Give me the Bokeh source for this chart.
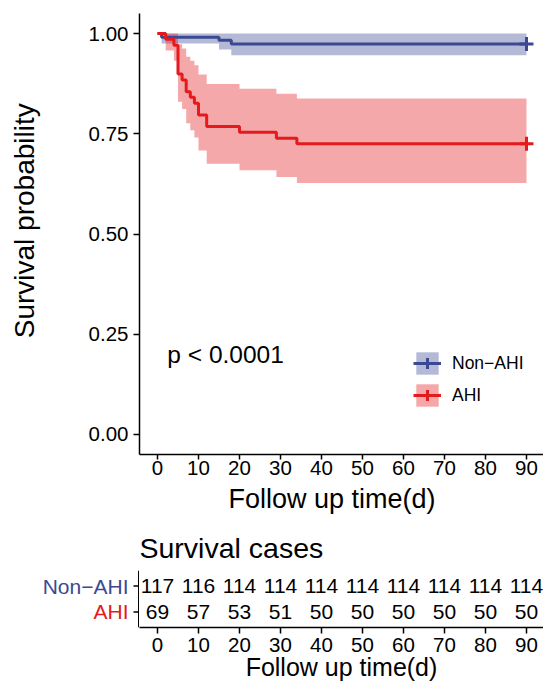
import math
from bokeh.plotting import figure
from bokeh.models import Range1d, FixedTicker, Legend, LegendItem, Label, NumeralTickFormatter
from bokeh.layouts import column, row
from bokeh.embed import file_html
from bokeh.resources import INLINE

FONT = "Liberation Sans"
BLUE = "#3B4992"
RED = "#E41A1C"

groups = ["Non\u2212AHI", "AHI"]

# Kaplan-Meier estimates
nonahi_time = [0, 1, 15, 18, 90]
nonahi_surv = [1.000, 0.991, 0.983, 0.974, 0.974]
nonahi_upper = [1.000, 1.000, 1.000, 1.000, 1.000]
nonahi_lower = [1.000, 0.975, 0.960, 0.946, 0.946]

ahi_time = [0, 2, 4, 5, 6, 7, 8, 9, 10, 12, 20, 29, 34, 90]
ahi_surv = [1.000, 0.986, 0.971, 0.899, 0.884, 0.855, 0.841, 0.826, 0.797, 0.768, 0.754, 0.739, 0.725, 0.725]
ahi_upper = [1.000, 1.000, 1.000, 0.973, 0.963, 0.942, 0.932, 0.921, 0.898, 0.874, 0.862, 0.850, 0.838, 0.838]
ahi_lower = [1.000, 0.958, 0.932, 0.830, 0.812, 0.776, 0.759, 0.741, 0.708, 0.675, 0.659, 0.642, 0.627, 0.627]

censor_time = [90]

risk_times = [0, 10, 20, 30, 40, 50, 60, 70, 80, 90]
risk_nonahi = [117, 116, 114, 114, 114, 114, 114, 114, 114, 114]
risk_ahi = [69, 57, 53, 51, 50, 50, 50, 50, 50, 50]
risk_rows = [2, 1]  # row positions of Non-AHI and AHI

x_ticks = [0, 10, 20, 30, 40, 50, 60, 70, 80, 90]
y_ticks = [0.0, 0.25, 0.5, 0.75, 1.0]
x_title = "Follow up time(d)"
y_title = "Survival probability"
table_title = "Survival cases"
pval_text = "p < 0.0001"

X_START, X_END = -4.39, 94.15
ROW_LO, ROW_HI = 0.4, 2.6
YT_W = 42
MAIN_H = 483
XT_H = 32


def style_axis(ax, label_size="20.5px", title_size="27px"):
    ax.axis_line_color = "black"
    ax.axis_line_width = 1.5
    ax.major_tick_line_color = "black"
    ax.major_tick_line_width = 1.5
    ax.major_tick_out = 6
    ax.major_tick_in = 0
    ax.minor_tick_out = 0
    ax.minor_tick_in = 0
    ax.major_label_text_font = FONT
    ax.major_label_text_font_size = label_size
    ax.major_label_text_color = "black"
    ax.axis_label_text_font = FONT
    ax.axis_label_text_font_size = title_size
    ax.axis_label_text_font_style = "normal"
    ax.axis_label_text_color = "black"


def blank(fig):
    fig.grid.visible = False
    fig.outline_line_color = None


# ---------------- y-axis title strip ----------------
p_yt = figure(width=YT_W, height=MAIN_H, x_range=Range1d(0, YT_W), y_range=Range1d(0, MAIN_H),
              output_backend="svg", toolbar_location=None,
              x_axis_location=None, y_axis_location=None,
              min_border_left=0, min_border_right=0, min_border_top=0, min_border_bottom=0)
blank(p_yt)
p_yt.text(x=[23.7], y=[MAIN_H - 227], text=[y_title], angle=math.pi / 2,
          text_font={"value": FONT}, text_font_size="28px", text_color="black",
          text_align="center", text_baseline="middle")

# ---------------- main survival plot ----------------
p1 = figure(width=543 - YT_W, height=MAIN_H, x_range=Range1d(X_START, X_END),
            y_range=Range1d(-0.05, 1.05),
            output_backend="svg", toolbar_location=None,
            min_border_left=139 - YT_W, min_border_right=0, min_border_top=13,
            min_border_bottom=MAIN_H - 454)
blank(p1)

b_band = p1.varea_step(x=nonahi_time, y1=nonahi_lower, y2=nonahi_upper, step_mode="after",
                       fill_color=BLUE, fill_alpha=0.38)
r_band = p1.varea_step(x=ahi_time, y1=ahi_lower, y2=ahi_upper, step_mode="after",
                       fill_color=RED, fill_alpha=0.38)
b_line = p1.step(x=nonahi_time, y=nonahi_surv, mode="after", line_width=3, line_color=BLUE)
r_line = p1.step(x=ahi_time, y=ahi_surv, mode="after", line_width=3, line_color=RED)
b_cens = p1.scatter(x=censor_time, y=[nonahi_surv[-1]], marker="cross", size=14,
                    line_width=3, line_color=BLUE)
r_cens = p1.scatter(x=censor_time, y=[ahi_surv[-1]], marker="cross", size=14,
                    line_width=3, line_color=RED)

p1.xaxis.ticker = FixedTicker(ticks=x_ticks)
p1.yaxis.ticker = FixedTicker(ticks=y_ticks)
p1.yaxis.formatter = NumeralTickFormatter(format="0.00")
style_axis(p1.xaxis[0])
style_axis(p1.yaxis[0])
p1.xaxis.major_tick_out = 5
p1.xaxis.major_label_standoff = 1
p1.yaxis.major_label_standoff = 5

p1.add_layout(Label(x=2.4, y=0.2, text=pval_text, text_font=FONT, text_font_size="24.5px",
                    text_baseline="middle", text_align="left", text_color="black"))

legend = Legend(items=[LegendItem(label=groups[0], renderers=[b_band, b_line, b_cens]),
                       LegendItem(label=groups[1], renderers=[r_band, r_line, r_cens])],
                location=(274, 45), padding=0, margin=0, spacing=4,
                glyph_width=28, glyph_height=28, label_standoff=11,
                label_text_font=FONT, label_text_font_size="17.5px",
                label_text_color="black", label_text_baseline="middle",
                border_line_color=None, background_fill_alpha=0)
p1.add_layout(legend)

# ---------------- x-axis title strip ----------------
p_xt = figure(width=543, height=XT_H, x_range=Range1d(0, 543), y_range=Range1d(0, XT_H),
              output_backend="svg", toolbar_location=None,
              x_axis_location=None, y_axis_location=None,
              min_border_left=0, min_border_right=0, min_border_top=0, min_border_bottom=0)
blank(p_xt)
p_xt.text(x=[331.5], y=[16.9], text=[x_title], text_font={"value": FONT},
          text_font_size="27px", text_color="black", text_align="center",
          text_baseline="middle")

# ---------------- risk table: row labels and left axis ----------------
p_lab = figure(width=139, height=168, x_range=Range1d(0, 139), y_range=Range1d(ROW_LO, ROW_HI),
               output_backend="svg", toolbar_location=None,
               x_axis_location=None, y_axis_location=None,
               min_border_left=0, min_border_right=0, min_border_top=55, min_border_bottom=55)
blank(p_lab)
p_lab.text(x=[128] * len(groups), y=risk_rows, text=groups,
           text_color=[BLUE, RED], text_font={"value": FONT}, text_font_size="21px",
           text_align="right", text_baseline="middle")
p_lab.segment(x0=[138.25], y0=[ROW_LO], x1=[138.25], y1=[ROW_HI],
              line_color="black", line_width=1.5)
p_lab.segment(x0=[133] * len(risk_rows), y0=risk_rows, x1=[139] * len(risk_rows), y1=risk_rows,
              line_color="black", line_width=1.5)

# ---------------- risk table: numbers ----------------
p2 = figure(width=404, height=168, x_range=Range1d(X_START, X_END), y_range=Range1d(ROW_LO, ROW_HI),
            output_backend="svg", toolbar_location=None, title=table_title,
            y_axis_location=None,
            min_border_left=0, min_border_right=0, min_border_top=55, min_border_bottom=55)
blank(p2)
p2.title.text_font = FONT
p2.title.text_font_size = "28.5px"
p2.title.text_font_style = "normal"
p2.title.text_color = "black"
p2.title.standoff = 14

p2.text(x=risk_times, y=[risk_rows[0]] * len(risk_times), text=[str(v) for v in risk_nonahi],
        text_font={"value": FONT}, text_font_size="21px", text_align="center",
        text_baseline="middle", text_color="black")
p2.text(x=risk_times, y=[risk_rows[1]] * len(risk_times), text=[str(v) for v in risk_ahi],
        text_font={"value": FONT}, text_font_size="21px", text_align="center",
        text_baseline="middle", text_color="black")

p2.xaxis.ticker = FixedTicker(ticks=x_ticks)
p2.xaxis.axis_label = x_title
style_axis(p2.xaxis[0], title_size="25px")
p2.xaxis.major_label_standoff = 4
p2.xaxis.axis_label_standoff = -2

layout = column(row(p_yt, p1), p_xt, row(p_lab, p2))
open("out.html", "w").write(file_html(layout, INLINE))
